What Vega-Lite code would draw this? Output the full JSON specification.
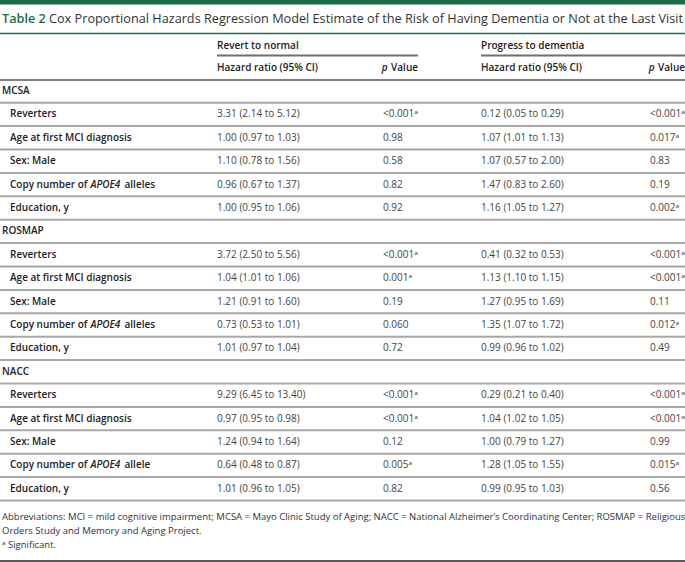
{
  "$schema": "https://vega.github.io/schema/vega-lite/v6.json",
  "width": 685,
  "height": 562,
  "padding": 0,
  "autosize": {"type": "none"},
  "background": "white",
  "config": {"view": {"stroke": null}, "text": {"font": "Open Sans, Noto Sans, DejaVu Sans", "fontSize": 10, "baseline": "middle", "align": "left"}},
  "datasets": {
    "body": [
      {"row": 0, "grp": true, "label": "MCSA", "ital": "", "post": "", "hr1": "", "p1": "", "hr2": "", "p2": ""},
      {"row": 1, "grp": false, "label": "Reverters", "ital": "", "post": "", "hr1": "3.31 (2.14 to 5.12)", "p1": "<0.001ᵃ", "hr2": "0.12 (0.05 to 0.29)", "p2": "<0.001ᵃ"},
      {"row": 2, "grp": false, "label": "Age at first MCI diagnosis", "ital": "", "post": "", "hr1": "1.00 (0.97 to 1.03)", "p1": "0.98", "hr2": "1.07 (1.01 to 1.13)", "p2": "0.017ᵃ"},
      {"row": 3, "grp": false, "label": "Sex: Male", "ital": "", "post": "", "hr1": "1.10 (0.78 to 1.56)", "p1": "0.58", "hr2": "1.07 (0.57 to 2.00)", "p2": "0.83"},
      {"row": 4, "grp": false, "label": "Copy number of", "ital": "APOE4", "post": "alleles", "hr1": "0.96 (0.67 to 1.37)", "p1": "0.82", "hr2": "1.47 (0.83 to 2.60)", "p2": "0.19"},
      {"row": 5, "grp": false, "label": "Education, y", "ital": "", "post": "", "hr1": "1.00 (0.95 to 1.06)", "p1": "0.92", "hr2": "1.16 (1.05 to 1.27)", "p2": "0.002ᵃ"},
      {"row": 6, "grp": true, "label": "ROSMAP", "ital": "", "post": "", "hr1": "", "p1": "", "hr2": "", "p2": ""},
      {"row": 7, "grp": false, "label": "Reverters", "ital": "", "post": "", "hr1": "3.72 (2.50 to 5.56)", "p1": "<0.001ᵃ", "hr2": "0.41 (0.32 to 0.53)", "p2": "<0.001ᵃ"},
      {"row": 8, "grp": false, "label": "Age at first MCI diagnosis", "ital": "", "post": "", "hr1": "1.04 (1.01 to 1.06)", "p1": "0.001ᵃ", "hr2": "1.13 (1.10 to 1.15)", "p2": "<0.001ᵃ"},
      {"row": 9, "grp": false, "label": "Sex: Male", "ital": "", "post": "", "hr1": "1.21 (0.91 to 1.60)", "p1": "0.19", "hr2": "1.27 (0.95 to 1.69)", "p2": "0.11"},
      {"row": 10, "grp": false, "label": "Copy number of", "ital": "APOE4", "post": "alleles", "hr1": "0.73 (0.53 to 1.01)", "p1": "0.060", "hr2": "1.35 (1.07 to 1.72)", "p2": "0.012ᵃ"},
      {"row": 11, "grp": false, "label": "Education, y", "ital": "", "post": "", "hr1": "1.01 (0.97 to 1.04)", "p1": "0.72", "hr2": "0.99 (0.96 to 1.02)", "p2": "0.49"},
      {"row": 12, "grp": true, "label": "NACC", "ital": "", "post": "", "hr1": "", "p1": "", "hr2": "", "p2": ""},
      {"row": 13, "grp": false, "label": "Reverters", "ital": "", "post": "", "hr1": "9.29 (6.45 to 13.40)", "p1": "<0.001ᵃ", "hr2": "0.29 (0.21 to 0.40)", "p2": "<0.001ᵃ"},
      {"row": 14, "grp": false, "label": "Age at first MCI diagnosis", "ital": "", "post": "", "hr1": "0.97 (0.95 to 0.98)", "p1": "<0.001ᵃ", "hr2": "1.04 (1.02 to 1.05)", "p2": "<0.001ᵃ"},
      {"row": 15, "grp": false, "label": "Sex: Male", "ital": "", "post": "", "hr1": "1.24 (0.94 to 1.64)", "p1": "0.12", "hr2": "1.00 (0.79 to 1.27)", "p2": "0.99"},
      {"row": 16, "grp": false, "label": "Copy number of", "ital": "APOE4", "post": "allele", "hr1": "0.64 (0.48 to 0.87)", "p1": "0.005ᵃ", "hr2": "1.28 (1.05 to 1.55)", "p2": "0.015ᵃ"},
      {"row": 17, "grp": false, "label": "Education, y", "ital": "", "post": "", "hr1": "1.01 (0.96 to 1.05)", "p1": "0.82", "hr2": "0.99 (0.95 to 1.03)", "p2": "0.56"}
    ]
  },
  "layer": [
    {
      "data": {"values": [{"k": "bar"}]},
      "mark": {"type": "rect", "color": "#1e6b4a"},
      "encoding": {
        "x": {"datum": 0, "type": "quantitative", "scale": {"domain": [0,1,2,3,4,5,6,7,8,9], "range": [0,2,10,49,217,383,418,481,650,685], "nice": false, "zero": false}, "axis": null},
        "x2": {"datum": 9},
        "y": {"datum": -8, "type": "quantitative", "scale": {"domain": [-8,-7,-6,-5,-4,-3,-2,-1,0,17,18,19,20,21], "range": [0,4.5,19,33.5,46,55.5,68,80,91,488.8,517,531,545,561], "nice": false, "zero": false}, "axis": null},
        "y2": {"datum": -7}
      }
    },
    {
      "data": {"values": [{"t": "Table 2"}]},
      "mark": {"type": "text", "fontSize": 12.7, "fontWeight": 600, "color": "#1e6b4a"},
      "encoding": {
        "x": {"datum": 1, "type": "quantitative"},
        "y": {"datum": -6, "type": "quantitative"},
        "text": {"field": "t"}
      }
    },
    {
      "data": {"values": [{"t": "Cox Proportional Hazards Regression Model Estimate of the Risk of Having Dementia or Not at the Last Visit"}]},
      "mark": {"type": "text", "fontSize": 12.7, "color": "#333333"},
      "encoding": {
        "x": {"datum": 3, "type": "quantitative"},
        "y": {"datum": -6, "type": "quantitative"},
        "text": {"field": "t"}
      }
    },
    {
      "data": {"values": [{"k": "titleline"}]},
      "mark": {"type": "rule", "color": "#1e6b4a", "strokeWidth": 1.5},
      "encoding": {
        "x": {"datum": 0, "type": "quantitative"},
        "x2": {"datum": 9},
        "y": {"datum": -5, "type": "quantitative"}
      }
    },
    {
      "data": {"values": [{"t": "Revert to normal"}]},
      "mark": {"type": "text", "fontWeight": 600, "color": "#222222"},
      "encoding": {"x": {"datum": 4, "type": "quantitative"}, "y": {"datum": -4, "type": "quantitative"}, "text": {"field": "t"}}
    },
    {
      "data": {"values": [{"t": "Progress to dementia"}]},
      "mark": {"type": "text", "fontWeight": 600, "color": "#222222"},
      "encoding": {"x": {"datum": 7, "type": "quantitative"}, "y": {"datum": -4, "type": "quantitative"}, "text": {"field": "t"}}
    },
    {
      "data": {"values": [{"k": "u1"}]},
      "mark": {"type": "rule", "color": "#6f6f6f", "strokeWidth": 2},
      "encoding": {"x": {"datum": 4, "type": "quantitative"}, "x2": {"datum": 6}, "y": {"datum": -3, "type": "quantitative"}}
    },
    {
      "data": {"values": [{"k": "u2"}]},
      "mark": {"type": "rule", "color": "#6f6f6f", "strokeWidth": 2},
      "encoding": {"x": {"datum": 7, "type": "quantitative"}, "x2": {"datum": 9}, "y": {"datum": -3, "type": "quantitative"}}
    },
    {
      "data": {"values": [{"t": "Hazard ratio (95% CI)"}]},
      "mark": {"type": "text", "fontWeight": 600, "color": "#222222"},
      "encoding": {"x": {"datum": 4, "type": "quantitative"}, "y": {"datum": -2, "type": "quantitative"}, "text": {"field": "t"}}
    },
    {
      "data": {"values": [{"t": "Hazard ratio (95% CI)"}]},
      "mark": {"type": "text", "fontWeight": 600, "color": "#222222"},
      "encoding": {"x": {"datum": 7, "type": "quantitative"}, "y": {"datum": -2, "type": "quantitative"}, "text": {"field": "t"}}
    },
    {
      "data": {"values": [{"t": "Value"}]},
      "mark": {"type": "text", "fontWeight": 600, "color": "#222222", "align": "right"},
      "encoding": {"x": {"datum": 6, "type": "quantitative"}, "y": {"datum": -2, "type": "quantitative"}, "text": {"field": "t"}}
    },
    {
      "data": {"values": [{"t": "p"}]},
      "mark": {"type": "text", "fontWeight": 600, "fontStyle": "italic", "color": "#222222", "align": "right", "dx": -30.5},
      "encoding": {"x": {"datum": 6, "type": "quantitative"}, "y": {"datum": -2, "type": "quantitative"}, "text": {"field": "t"}}
    },
    {
      "data": {"values": [{"t": "Value"}]},
      "mark": {"type": "text", "fontWeight": 600, "color": "#222222", "align": "right"},
      "encoding": {"x": {"datum": 9, "type": "quantitative"}, "y": {"datum": -2, "type": "quantitative"}, "text": {"field": "t"}}
    },
    {
      "data": {"values": [{"t": "p"}]},
      "mark": {"type": "text", "fontWeight": 600, "fontStyle": "italic", "color": "#222222", "align": "right", "dx": -30.5},
      "encoding": {"x": {"datum": 9, "type": "quantitative"}, "y": {"datum": -2, "type": "quantitative"}, "text": {"field": "t"}}
    },
    {
      "data": {"values": [{"k": "hdrline"}]},
      "mark": {"type": "rule", "color": "#555555", "strokeWidth": 1.5},
      "encoding": {"x": {"datum": 0, "type": "quantitative"}, "x2": {"datum": 9}, "y": {"datum": -1, "type": "quantitative"}}
    },
    {
      "data": {"name": "body"},
      "mark": {"type": "rule", "color": "#a8a8a8", "strokeWidth": 2, "yOffset": 11.7},
      "encoding": {"x": {"datum": 0, "type": "quantitative"}, "x2": {"datum": 9}, "y": {"field": "row", "type": "quantitative"}}
    },
    {
      "data": {"name": "body"},
      "transform": [{"filter": "datum.grp"}],
      "mark": {"type": "text", "fontWeight": 600, "color": "#222222"},
      "encoding": {"x": {"datum": 1, "type": "quantitative"}, "y": {"field": "row", "type": "quantitative"}, "text": {"field": "label"}}
    },
    {
      "data": {"name": "body"},
      "transform": [{"filter": "!datum.grp"}],
      "mark": {"type": "text", "fontWeight": 600, "color": "#222222"},
      "encoding": {"x": {"datum": 2, "type": "quantitative"}, "y": {"field": "row", "type": "quantitative"}, "text": {"field": "label"}}
    },
    {
      "data": {"name": "body"},
      "mark": {"type": "text", "fontWeight": 600, "fontStyle": "italic", "color": "#222222", "dx": 80.5},
      "encoding": {"x": {"datum": 2, "type": "quantitative"}, "y": {"field": "row", "type": "quantitative"}, "text": {"field": "ital"}}
    },
    {
      "data": {"name": "body"},
      "mark": {"type": "text", "fontWeight": 600, "color": "#222222", "dx": 114.5},
      "encoding": {"x": {"datum": 2, "type": "quantitative"}, "y": {"field": "row", "type": "quantitative"}, "text": {"field": "post"}}
    },
    {
      "data": {"name": "body"},
      "mark": {"type": "text", "color": "#444444"},
      "encoding": {"x": {"datum": 4, "type": "quantitative"}, "y": {"field": "row", "type": "quantitative"}, "text": {"field": "hr1"}}
    },
    {
      "data": {"name": "body"},
      "mark": {"type": "text", "color": "#444444"},
      "encoding": {"x": {"datum": 5, "type": "quantitative"}, "y": {"field": "row", "type": "quantitative"}, "text": {"field": "p1"}}
    },
    {
      "data": {"name": "body"},
      "mark": {"type": "text", "color": "#444444"},
      "encoding": {"x": {"datum": 7, "type": "quantitative"}, "y": {"field": "row", "type": "quantitative"}, "text": {"field": "hr2"}}
    },
    {
      "data": {"name": "body"},
      "mark": {"type": "text", "color": "#444444"},
      "encoding": {"x": {"datum": 8, "type": "quantitative"}, "y": {"field": "row", "type": "quantitative"}, "text": {"field": "p2"}}
    },
    {
      "data": {"values": [
        {"line": 18, "t": "Abbreviations: MCI = mild cognitive impairment; MCSA = Mayo Clinic Study of Aging; NACC = National Alzheimer’s Coordinating Center; ROSMAP = Religious"},
        {"line": 19, "t": "Orders Study and Memory and Aging Project."},
        {"line": 20, "t": "ᵃ Significant."}
      ]},
      "mark": {"type": "text", "fontSize": 9.5, "color": "#333333"},
      "encoding": {"x": {"datum": 1, "type": "quantitative"}, "y": {"field": "line", "type": "quantitative"}, "text": {"field": "t"}}
    },
    {
      "data": {"values": [{"k": "bottom"}]},
      "mark": {"type": "rule", "color": "#222222", "strokeWidth": 1.5},
      "encoding": {"x": {"datum": 0, "type": "quantitative"}, "x2": {"datum": 9}, "y": {"datum": 21, "type": "quantitative"}}
    }
  ]
}
